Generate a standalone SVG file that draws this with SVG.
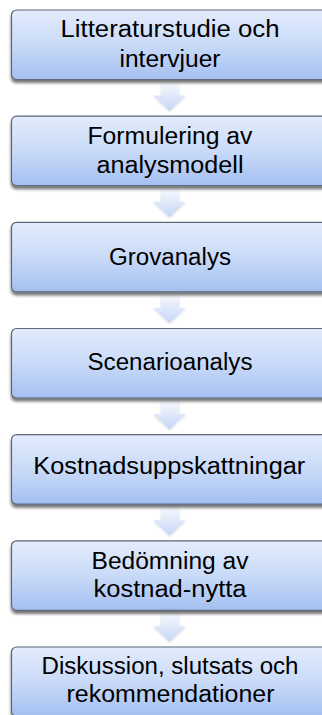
<svg xmlns="http://www.w3.org/2000/svg" width="322" height="715" viewBox="0 0 322 715">
<defs>
<linearGradient id="boxg" x1="0" y1="0" x2="0" y2="1">
<stop offset="0" stop-color="#e3ecfc"/>
<stop offset="0.5" stop-color="#c9daf8"/>
<stop offset="1" stop-color="#a4c0f1"/>
</linearGradient>
<linearGradient id="arrg" x1="0" y1="0" x2="0" y2="1">
<stop offset="0" stop-color="#f6f9fe"/>
<stop offset="1" stop-color="#c5d6f5"/>
</linearGradient>
<filter id="sh" x="-10%" y="-20%" width="120%" height="150%">
<feGaussianBlur in="SourceAlpha" stdDeviation="1.5"/>
<feOffset dx="0" dy="2.5" result="b"/>
<feComponentTransfer><feFuncA type="linear" slope="0.55"/></feComponentTransfer>
<feMerge><feMergeNode/><feMergeNode in="SourceGraphic"/></feMerge>
</filter>
<filter id="ash" x="-30%" y="-20%" width="160%" height="150%">
<feGaussianBlur in="SourceAlpha" stdDeviation="1.2"/>
<feOffset dx="0" dy="1"/>
<feComponentTransfer><feFuncA type="linear" slope="0.15"/></feComponentTransfer>
<feMerge><feMergeNode/><feMergeNode in="SourceGraphic"/></feMerge>
</filter>
<path id="arr" d="M161,3 H179 V16 H186 L169.5,31.5 L153,16 H161 Z"/>
</defs>
<style>
.box{fill:url(#boxg);stroke:#5d6778;stroke-width:1.2;filter:url(#sh)}
.t{font-family:"Liberation Sans",Arial,sans-serif;font-size:23px;fill:#000;text-anchor:middle}
.a{fill:url(#arrg);filter:url(#ash)}
</style>
<g id="connectors">
<use href="#arr" class="a" transform="translate(0,79.5)"/>
<use href="#arr" class="a" transform="translate(0,185.7)"/>
<use href="#arr" class="a" transform="translate(0,291.8)"/>
<use href="#arr" class="a" transform="translate(0,398)"/>
<use href="#arr" class="a" transform="translate(0,504.2)"/>
<use href="#arr" class="a" transform="translate(0,610.3)"/>
</g>
<g id="n1">
<rect class="box" x="11.5" y="10" width="318" height="69.5" rx="5"/>
<text class="t" x="170" y="37.3" textLength="219" lengthAdjust="spacingAndGlyphs">Litteraturstudie och</text>
<text class="t" x="170" y="66.5" textLength="101" lengthAdjust="spacingAndGlyphs">intervjuer</text>
</g>
<g id="n2">
<rect class="box" x="11.5" y="116.2" width="318" height="69.5" rx="5"/>
<text class="t" x="170" y="144" textLength="165" lengthAdjust="spacingAndGlyphs">Formulering av</text>
<text class="t" x="170" y="172.7" textLength="147" lengthAdjust="spacingAndGlyphs">analysmodell</text>
</g>
<g id="n3">
<rect class="box" x="11.5" y="222.3" width="318" height="69.5" rx="5"/>
<text class="t" x="170" y="265" textLength="122" lengthAdjust="spacingAndGlyphs">Grovanalys</text>
</g>
<g id="n4">
<rect class="box" x="11.5" y="328.5" width="318" height="69.5" rx="5"/>
<text class="t" x="170" y="370" textLength="165" lengthAdjust="spacingAndGlyphs">Scenarioanalys</text>
</g>
<g id="n5">
<rect class="box" x="11.5" y="434.7" width="318" height="69.5" rx="5"/>
<text class="t" x="169.3" y="474.3" textLength="272" lengthAdjust="spacingAndGlyphs">Kostnadsuppskattningar</text>
</g>
<g id="n6">
<rect class="box" x="11.5" y="540.8" width="318" height="69.5" rx="5"/>
<text class="t" x="170" y="568.7" textLength="157" lengthAdjust="spacingAndGlyphs">Bedömning av</text>
<text class="t" x="170" y="597" textLength="153" lengthAdjust="spacingAndGlyphs">kostnad-nytta</text>
</g>
<g id="n7">
<rect class="box" x="11.5" y="647" width="318" height="69.5" rx="5"/>
<text class="t" x="170" y="674" textLength="257" lengthAdjust="spacingAndGlyphs">Diskussion, slutsats och</text>
<text class="t" x="170.5" y="702.3" textLength="208" lengthAdjust="spacingAndGlyphs">rekommendationer</text>
</g>
</svg>
